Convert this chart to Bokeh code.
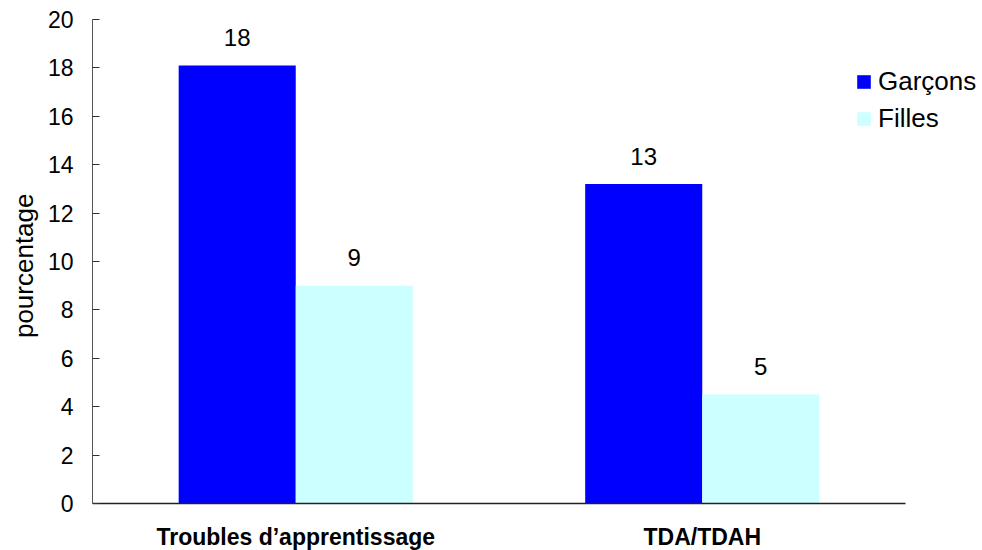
from bokeh.plotting import figure
from bokeh.models import (ColumnDataSource, Range1d, Legend, LegendItem, FixedTicker,
                          LinearAxis, Title)
from bokeh.transform import dodge
from bokeh.core.properties import value
from bokeh.embed import file_html
from bokeh.resources import INLINE

# Prevalence by sex (%)
categories = ["Troubles d\u2019apprentissage", "TDA/TDAH"]
garcons = [18.1, 13.2]
filles = [9.0, 4.5]
series_names = ["Garçons", "Filles"]
y_ticks = [0, 2, 4, 6, 8, 10, 12, 14, 16, 18, 20]
y_title = "pourcentage"

FONT = "Liberation Sans"
BLUE = "#0000FF"
CYAN = "#CCFFFF"


def fmt(v):
    return str(int(v + 0.5))


n = len(categories)
src = ColumnDataSource(dict(
    x=[i + 0.5 for i in range(n)],
    cat=categories,
    garcons=garcons,
    filles=filles,
    garcons_lbl=[fmt(v) for v in garcons],
    filles_lbl=[fmt(v) for v in filles],
))

# frame extends past the last category so the legend has room on the right
p = figure(
    width=982, height=550,
    x_range=Range1d(0, n * 890 / 813),
    y_range=Range1d(-20 * 47 / 484, 20),
    x_axis_location=None,
    output_backend="svg", toolbar_location=None,
    min_border_left=92, min_border_right=0, min_border_top=19, min_border_bottom=0,
)

bar_w = 0.288
r_g = p.vbar(x=dodge("x", -bar_w / 2), top="garcons", width=bar_w,
             source=src, fill_color=BLUE, line_color=None)
r_f = p.vbar(x=dodge("x", bar_w / 2), top="filles", width=bar_w,
             source=src, fill_color=CYAN, line_color=None)

# value labels above the bars
for col, off in (("garcons", -bar_w / 2), ("filles", bar_w / 2)):
    p.text(x=dodge("x", off), y=col, text=col + "_lbl", source=src,
           text_align="center", text_baseline="alphabetic", y_offset=-28,
           text_font=value(FONT), text_font_size="24px", text_color="#000000")

# category names under the baseline
p.text(x="x", y=0, text="cat", source=src, text_align="center",
       text_baseline="middle", y_offset=33, text_font=value(FONT),
       text_font_size="23px", text_font_style="bold", text_color="#000000")

p.xgrid.visible = False
p.ygrid.visible = False
p.outline_line_color = None
p.background_fill_color = "white"
p.border_fill_color = "white"

# y axis (line only from 0 to 20)
ya = p.yaxis[0]
ya.bounds = (0, 20)
ya.ticker = FixedTicker(ticks=y_ticks)
ya.major_tick_in = 7
ya.major_tick_out = 0
ya.minor_tick_in = 0
ya.minor_tick_out = 0
ya.axis_line_color = "#555555"
ya.major_tick_line_color = "#333333"
ya.major_label_text_font = FONT
ya.major_label_text_font_size = "23px"
ya.major_label_text_color = "#000000"
ya.major_label_standoff = 19

# vertical title, placed along the 0-20 part of the axis
p.add_layout(Title(text=y_title, align="right", offset=174, standoff=11,
                   text_font=FONT, text_font_size="26px", text_font_style="normal",
                   text_color="#000000"), "left")

# category baseline at y = 0, spanning the categories only
xa = LinearAxis(fixed_location=0, bounds=(0, n), ticker=FixedTicker(ticks=[]),
                major_label_text_font_size="0px", major_tick_in=0, major_tick_out=0,
                minor_tick_in=0, minor_tick_out=0, axis_line_color="#222222",
                axis_line_width=1.5)
p.add_layout(xa, "below")

legend = Legend(
    items=[LegendItem(label=series_names[0], renderers=[r_g]),
           LegendItem(label=series_names[1], renderers=[r_f])],
    location=(763, 416),
    glyph_width=17, glyph_height=17, label_standoff=6, spacing=6,
    label_text_font=FONT, label_text_font_size="26px", label_text_color="#000000",
    border_line_color=None, background_fill_alpha=0, padding=0, margin=0,
    label_height=17,
)
p.add_layout(legend)

open("out.html", "w").write(file_html(p, INLINE))
